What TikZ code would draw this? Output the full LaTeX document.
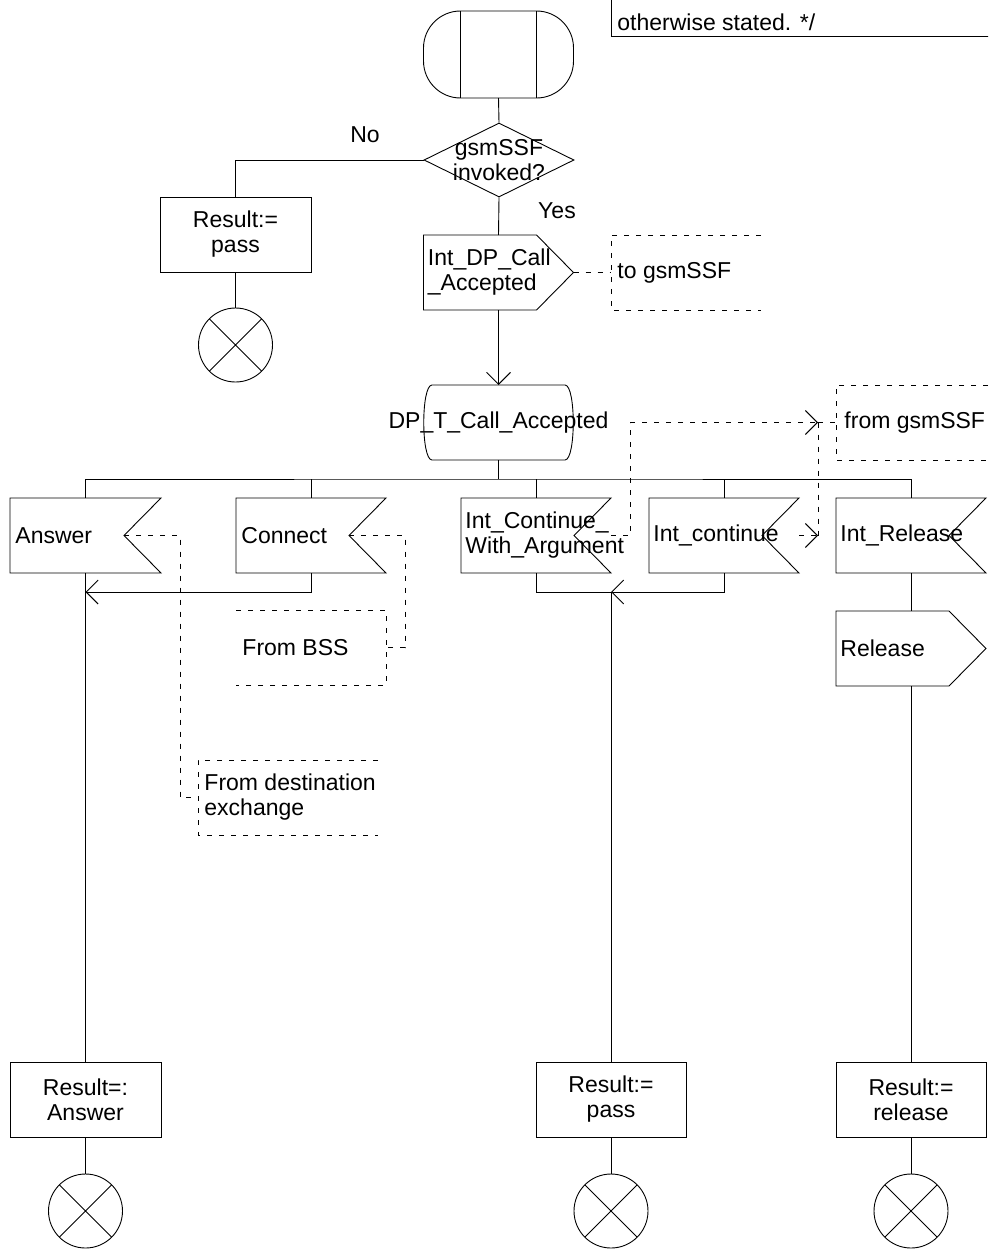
\documentclass[tikz,border=0pt]{standalone}
\usepackage{fontspec}
\setmainfont{Liberation Sans}
\usetikzlibrary{arrows.meta,shapes.geometric}

% SDL symbol outlines drawn around empty named nodes
\newcommand{\sdlInput}[1]{\draw (#1.north west) -- (#1.north east) -- ([xshift=-37pt]#1.east) -- (#1.south east) -- (#1.south west) -- cycle;}
\newcommand{\sdlOutput}[1]{\draw (#1.north west) -- ([xshift=-37pt]#1.north east) -- (#1.east) -- ([xshift=-37pt]#1.south east) -- (#1.south west) -- cycle;}
\newcommand{\sdlStop}[1]{\draw (#1.north west) -- (#1.south east) (#1.north east) -- (#1.south west);}
\newcommand{\sdlState}[1]{\draw ([xshift=8pt]#1.north west) -- ([xshift=-8pt]#1.north east)
   .. controls ([xshift=3pt]#1.north east) and ([xshift=3pt]#1.south east) .. ([xshift=-8pt]#1.south east)
   -- ([xshift=8pt]#1.south west)
   .. controls ([xshift=-3pt]#1.south west) and ([xshift=-3pt]#1.north west) .. cycle;}

\begin{document}
\begin{tikzpicture}[x=1pt, y=-1pt, line width=0.9pt,
  font=\fontsize{23}{25}\selectfont,
  shapebox/.style={minimum width=150pt, minimum height=75pt, inner sep=0pt, outer sep=0pt},
  task/.style={shapebox, draw, align=center},
  txtl/.style={anchor=west, align=left, inner sep=5pt},
  txtc/.style={align=center, inner sep=0pt},
  stopsym/.style={circle, draw, minimum size=74pt, inner sep=0pt, outer sep=0pt},
  cmt/.style={dash pattern=on 5pt off 7pt},
  arr/.style={-{Straight Barb[length=12pt, width=24pt]}},
]
\useasboundingbox (0,0) rectangle (988,1250);
\clip (0,0) rectangle (988,1250);

% procedure start
\node (start) [shapebox, draw, minimum height=87pt, rounded corners=37pt] at (498.5,54.5) {};
\draw ([xshift=37pt]start.north west) -- ([xshift=37pt]start.south west)
      ([xshift=-37pt]start.north east) -- ([xshift=-37pt]start.south east);

% text annotation at the top
\node (cmtTop) [draw, anchor=south west, minimum width=420pt, minimum height=120pt, inner sep=0pt] at (611,37) {};
\node (cmtTopT) [txtl, inner sep=6pt] at (611,22) {otherwise stated. */};

% decision
\node (dec) [diamond, draw, minimum width=150pt, minimum height=74pt, inner sep=0pt] at (499,160) {};
\node (decT) [txtc] at (dec.center) {gsmSSF\\invoked?};
\node (lblNo) at (365,135) {No};
\node (lblYes) at (557,211) {Yes};

% "No" branch
\node (resNo) [task, minimum width=151pt] at (235.5,234.5) {Result:=\\pass};
\node (stopNo) [stopsym] at (235.5,345) {};
\sdlStop{stopNo}

% "Yes" branch
\node (outAcc) [shapebox] at (498.5,272.5) {};
\node (outAccT) [txtl, inner sep=4pt] at (outAcc.west) {Int\_DP\_Call\\\_Accepted};
\sdlOutput{outAcc}
\node (cmtTo) [shapebox] at (686,272.5) {};
\node (cmtToT) [txtl, inner sep=6pt] at (cmtTo.west) {to gsmSSF};
\draw[cmt] (cmtTo.north east) -- (cmtTo.north west) -- (cmtTo.south west) -- (cmtTo.south east);

% wait state
\node (state) [shapebox, minimum width=149pt] at (498.5,422.5) {};
\sdlState{state}
\node (stateT) [txtc] at (state.center) {DP\_T\_Call\_Accepted};

\node (cmtFrom) [shapebox, minimum width=152pt] at (912,422.5) {};
\node (cmtFromT) [txtl, inner sep=8pt] at (cmtFrom.west) {from gsmSSF};
\draw[cmt] (cmtFrom.north east) -- (cmtFrom.north west) -- (cmtFrom.south west) -- (cmtFrom.south east);

% input signals
\node (inAns) [shapebox, minimum width=151pt] at (85.5,535.5) {};
\node (inAnsT) [txtl] at (inAns.west) {Answer};
\sdlInput{inAns}
\node (inCon) [shapebox] at (311,535.5) {};
\node (inConT) [txtl] at (inCon.west) {Connect};
\sdlInput{inCon}
\node (inIcwa) [shapebox] at (536,535.5) {};
\node (inIcwaT) [txtl, inner sep=4pt] at (inIcwa.west) {Int\_Continue\_\\With\_Argument};
\sdlInput{inIcwa}
\node (inIc) [shapebox] at (724,535.5) {};
\node (inIcT) [txtl, inner sep=4pt] at (inIc.west) {Int\_continue};
\sdlInput{inIc}
\node (inRel) [shapebox] at (911,535.5) {};
\node (inRelT) [txtl, inner sep=4pt] at (inRel.west) {Int\_Release};
\sdlInput{inRel}

% comments on the inputs
\node (cmtBss) [shapebox] at (311,647.5) {};
\node (cmtBssT) [txtl, inner sep=6pt] at (cmtBss.west) {From BSS};
\draw[cmt] (cmtBss.north west) -- (cmtBss.north east) -- (cmtBss.south east) -- (cmtBss.south west);
\node (cmtDest) [shapebox, minimum width=180pt] at (288,797.5) {};
\node (cmtDestT) [txtl, inner sep=6pt] at (cmtDest.west) {From destination\\exchange};
\draw[cmt] (cmtDest.north east) -- (cmtDest.north west) -- (cmtDest.south west) -- (cmtDest.south east);

% output towards the BSS
\node (outRel) [shapebox] at (911,648.5) {};
\node (outRelT) [txtl, inner sep=4pt] at (outRel.west) {Release};
\sdlOutput{outRel}

% results and ends
\node (resAns) [task, minimum width=151pt] at (85.5,1099.5) {Result=:\\Answer};
\node (resPass) [task] at (611,1099.5) {Result:=\\pass};
\node (resRel) [task] at (911,1099.5) {Result:=\\release};
\node (stopAns) [stopsym] at (85.5,1211) {};
\node (stopPass) [stopsym] at (611,1211) {};
\node (stopRel) [stopsym] at (911,1211) {};
\sdlStop{stopAns}
\sdlStop{stopPass}
\sdlStop{stopRel}

% flow lines
\draw (start.south) -- (dec.north);
\draw (dec.west) -| (resNo.north);
\draw (resNo.south) -- (stopNo.north);
\draw (dec.south) -- (outAcc.north);
\draw[arr] (outAcc.south) -- (state.north);
\draw[cmt] (outAcc.east) -- (cmtTo.west);

\coordinate (bus) at (498.5,479);
\draw (state.south) -- (bus);
\draw (inAns.north) |- (bus) -| (inRel.north);
\draw (inCon.north) -- (inCon.north |- bus);
\draw (inIcwa.north) -- (inIcwa.north |- bus);
\draw (inIc.north) -- (inIc.north |- bus);

\coordinate (jAns) at (85.5,592);
\coordinate (jPass) at (611,592);
\draw[arr] (inCon.south) |- (jAns);
\draw (inAns.south) -- (resAns.north);
\draw (inIcwa.south) |- (jPass);
\draw[arr] (inIc.south) |- (jPass);
\draw (jPass) -- (resPass.north);
\draw (inRel.south) -- (outRel.north);
\draw (outRel.south) -- (resRel.north);
\draw (resAns.south) -- (stopAns.north);
\draw (resPass.south) -- (stopPass.north);
\draw (resRel.south) -- (stopRel.north);

% comment connectors
\draw[cmt] ([xshift=-37pt]inAns.east) -- ++(56,0) |- (cmtDest.west);
\draw[cmt] ([xshift=-37pt]inCon.east) -- ++(56,0) |- (cmtBss.east);
\coordinate (kA) at (630,422.5);
\coordinate (kB) at (818,422.5);
\coordinate (kC) at (818,535.5);
\draw[cmt, arr] (inIcwa.east) -| (kA) -- (kB);
\draw[cmt] (kB) -- (cmtFrom.west);
\draw[cmt] (kB) -- (kC);
\draw[cmt, arr] (inIc.east) -- (kC);
\end{tikzpicture}
\end{document}
